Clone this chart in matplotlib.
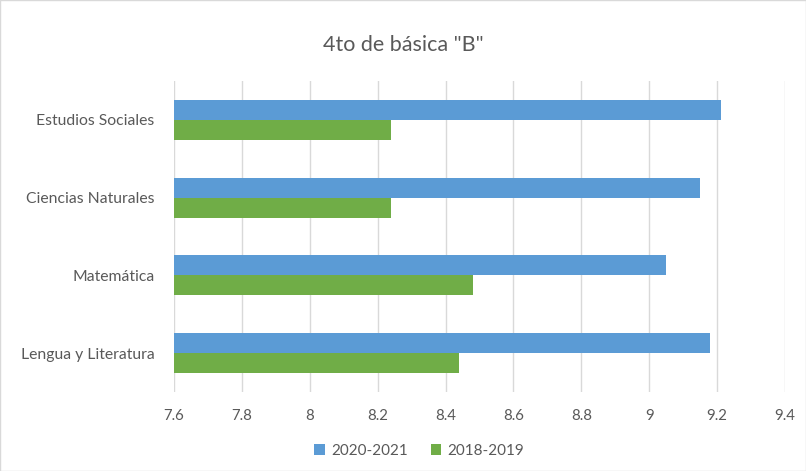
import matplotlib
matplotlib.use("Agg")
import matplotlib.pyplot as plt
import numpy as np
from matplotlib.patches import Rectangle

categories = ["Lengua y Literatura", "Matemática", "Ciencias Naturales", "Estudios Sociales"]
s2020 = [9.18, 9.05, 9.15, 9.21]
s2018 = [8.44, 8.48, 8.24, 8.24]
series_names = ["2020-2021", "2018-2019"]
xticks = [7.6, 7.8, 8.0, 8.2, 8.4, 8.6, 8.8, 9.0, 9.2, 9.4]
xtick_labels = ["7.6", "7.8", "8", "8.2", "8.4", "8.6", "8.8", "9", "9.2", "9.4"]

plt.rcParams['font.family'] = ['Lato', 'DejaVu Sans']
gray = "#595959"

fig = plt.figure(figsize=(8.06, 4.71), dpi=100)
ax = fig.add_axes([174/806, 1-392/471, (785-174)/806, (392-81)/471])

y = np.arange(len(categories))
h = 0.257
ax.barh(y + h/2, np.array(s2020) - 7.6, left=7.6, height=h, color="#5B9BD5", label=series_names[0], zorder=3)
ax.barh(y - h/2, np.array(s2018) - 7.6, left=7.6, height=h, color="#70AD47", label=series_names[1], zorder=3)

ax.set_xlim(7.6, 9.4)
ax.set_ylim(-0.5, len(categories) - 0.5)
ax.set_xticks(xticks)
ax.set_xticklabels(xtick_labels)
ax.set_yticks(y)
ax.set_yticklabels(categories)
ax.tick_params(axis='both', length=0, colors=gray)
ax.tick_params(axis='x', pad=12, labelsize=10.8)
ax.tick_params(axis='y', pad=14, labelsize=11.3)
ax.grid(axis='x', color="#d9d9d9", linewidth=1, zorder=0)
for s in ax.spines.values():
    s.set_visible(False)

fig.text(0.5, 1-45/471, '4to de básica "B"', ha='center', va='center', fontsize=15.5, color=gray)

leg = fig.legend(loc='center', bbox_to_anchor=(0.52, 1-451/471), ncol=2, frameon=False,
                 fontsize=11, handlelength=0.7, handleheight=0.7, columnspacing=1.5,
                 handletextpad=0.4, labelcolor=gray)

fig.patches.append(Rectangle((0, 0), 1, 1, transform=fig.transFigure, fill=False,
                             edgecolor="#d9d9d9", linewidth=1))

fig.savefig("out.png", dpi=100)
